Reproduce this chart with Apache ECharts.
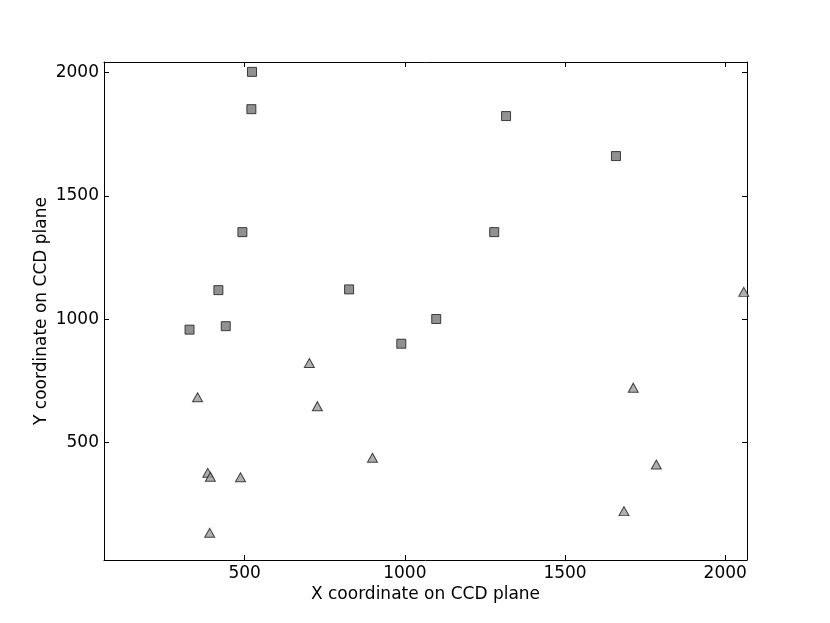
<!DOCTYPE html>
<html>
<head>
<meta charset="utf-8">
<script src="https://cdn.jsdelivr.net/npm/echarts@6/dist/echarts.min.js"></script>
<style>
  html, body { margin: 0; padding: 0; background: #fff; }
  #chart { width: 830px; height: 623px; }
</style>
</head>
<body>
<div id="chart"></div>
<script>
// data (CCD plane coordinates)
const squareX = [523, 521, 1316, 1659, 493, 1279, 418, 826, 1098, 989, 441, 328]
const squareY = [2002, 1851, 1823, 1661, 1353, 1353, 1118, 1121, 1001, 901, 972, 958]
const triangleX = [2058, 702, 727, 353, 899, 385, 393, 487, 391, 1713, 1785, 1684]
const triangleY = [1111, 823, 648, 684, 439, 378, 362, 360, 135, 723, 412, 223]
const xTicks = [500, 1000, 1500, 2000]
const yTicks = [500, 1000, 1500, 2000]

const xRange = [61, 2068]
const yRange = [25, 2042]
const font = 'DejaVu Sans'

const pairs = (xs, ys) => xs.map((x, i) => [x, ys[i]])

const baseAxis = (ticks, range) => ({
  type: 'value',
  min: range[0],
  max: range[1],
  splitLine: { show: false },
  axisLine: { show: true, onZero: false, lineStyle: { color: '#000', width: 1 } },
  axisTick: { show: true, inside: true, length: 5, customValues: ticks, lineStyle: { color: '#000' } },
  axisLabel: {
    show: true,
    customValues: ticks,
    formatter: v => String(v),
    margin: 5,
    color: '#000',
    fontFamily: font,
    fontSize: 17
  }
})

const chart = echarts.init(document.getElementById('chart'))

const option = {
  animation: false,
  backgroundColor: '#fff',
  grid: { left: 104, right: 83, top: 62, bottom: 63 },
  xAxis: [
    Object.assign(baseAxis(xTicks, xRange), {
      position: 'bottom',
      name: 'X coordinate on CCD plane',
      nameLocation: 'middle',
      nameGap: 26,
      nameMoveOverlap: false,
      nameTextStyle: { color: '#000', fontFamily: font, fontSize: 17 }
    }),
    Object.assign(baseAxis(xTicks, xRange), {
      position: 'top',
      axisLabel: { show: false }
    })
  ],
  yAxis: [
    Object.assign(baseAxis(yTicks, yRange), {
      position: 'left',
      name: 'Y coordinate on CCD plane',
      nameLocation: 'middle',
      nameGap: 54,
      nameMoveOverlap: false,
      nameTextStyle: { color: '#000', fontFamily: font, fontSize: 17 }
    }),
    Object.assign(baseAxis(yTicks, yRange), {
      position: 'right',
      axisLabel: { show: false }
    })
  ],
  series: [
    {
      name: 'squares',
      type: 'scatter',
      symbol: 'rect',
      symbolSize: 9,
      itemStyle: { color: '#767676', borderColor: '#1a1a1a', borderWidth: 1 },
      data: pairs(squareX, squareY)
    },
    {
      name: 'triangles',
      type: 'scatter',
      symbol: 'triangle',
      symbolSize: [10, 9],
      itemStyle: { color: '#9c9c9c', borderColor: '#1a1a1a', borderWidth: 1 },
      data: pairs(triangleX, triangleY)
    }
  ]
}

chart.setOption(option)
</script>
</body>
</html>
